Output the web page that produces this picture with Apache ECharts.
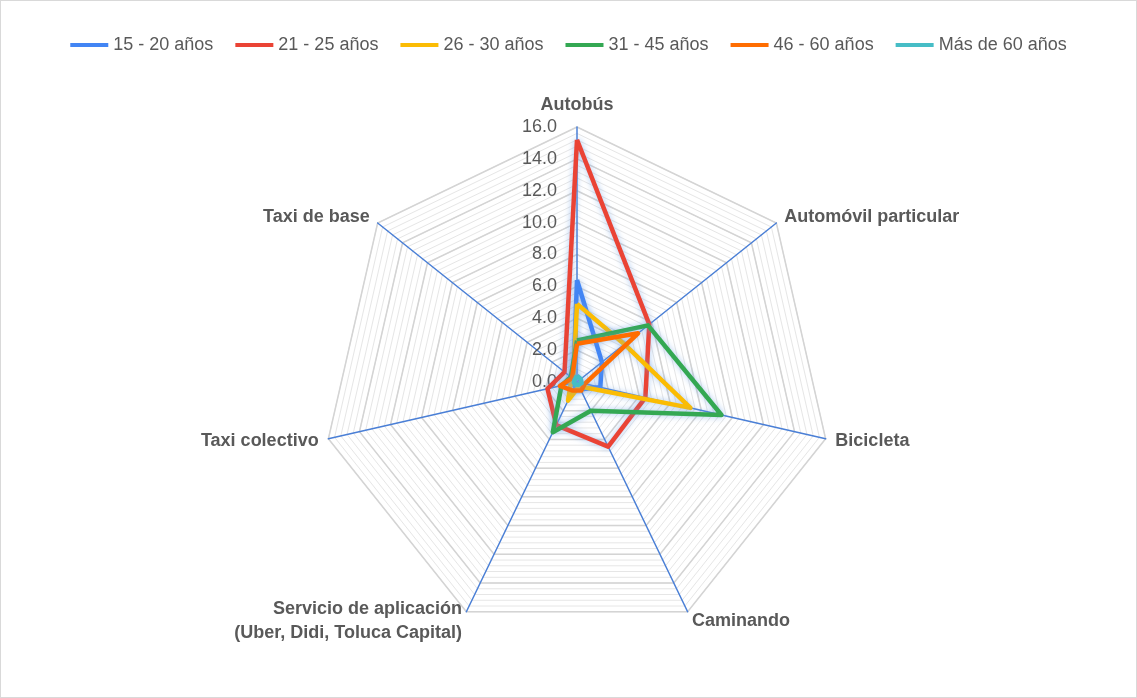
<!DOCTYPE html>
<html>
<head>
<meta charset="utf-8">
<script src="https://cdn.jsdelivr.net/npm/echarts@6/dist/echarts.min.js"></script>
<style>
  html, body { margin: 0; padding: 0; background: #ffffff; }
  #chart { width: 1137px; height: 698px; box-sizing: border-box; border: 1px solid #d9d9d9; }
</style>
</head>
<body>
<div id="chart"></div>
<script>
// Modos de transporte (en sentido horario desde arriba)
const categories = [
  'Autobús',
  'Automóvil particular',
  'Bicicleta',
  'Caminando',
  'Servicio de aplicación\n(Uber, Didi, Toluca Capital)',
  'Taxi colectivo',
  'Taxi de base'
];

// Grupos de edad
const ageGroups = ['15 - 20 años', '21 - 25 años', '26 - 30 años', '31 - 45 años', '46 - 60 años', 'Más de 60 años'];

// Porcentajes por modo de transporte, un arreglo por grupo de edad
const age15to20 = [6.4, 2.0, 1.5, 0.5, 0.3, 0.3, 0.3];
const age21to25 = [15.2, 5.8, 4.4, 4.5, 3.0, 1.9, 1.0];
const age26to30 = [4.9, 3.8, 7.3, 0.3, 1.3, 0.4, 0.3];
const age31to45 = [2.6, 5.7, 9.3, 2.0, 3.5, 1.0, 0.5];
const age46to60 = [2.4, 4.9, 0.5, 0.6, 0.6, 1.1, 0.4];
const ageOver60 = [0.4, 0.3, 0.3, 0.2, 0.2, 0.2, 0.2];

// Escala radial
const axisMin = 0;
const axisMax = 16;
const majorStep = 2;
const minorStep = 0.4;

const groupValues = [age15to20, age21to25, age26to30, age31to45, age46to60, ageOver60];
const groupColors = ['#4285F4', '#EA4335', '#FBBC04', '#34A853', '#FF6D01', '#46BDC6'];

// ECharts coloca los indicadores en sentido antihorario; se reordenan para recorrerlos en sentido horario
const order = [0].concat(categories.slice(1).map((_, i) => categories.length - 1 - i));

const fontFamily = "'Liberation Sans', Arial, sans-serif";
const center = [576, 381];
const radius = 255;

const majorIndicators = order.map((idx, k) => {
  const ind = { name: categories[idx], min: axisMin, max: axisMax };
  if (k === 0) {
    ind.axisLabel = {
      show: true,
      color: '#595959',
      fontSize: 18,
      fontFamily: fontFamily,
      margin: 20,
      formatter: v => Number(v).toFixed(1)
    };
  }
  return ind;
});
const minorIndicators = order.map(() => ({ name: '', min: axisMin, max: axisMax }));

const chart = echarts.init(document.getElementById('chart'), null, { renderer: 'canvas' });

chart.setOption({
  backgroundColor: '#ffffff',
  animation: false,
  legend: {
    data: ageGroups,
    top: 30,
    left: 'center',
    icon: 'rect',
    itemWidth: 38,
    itemHeight: 4,
    itemGap: 22,
    textStyle: { color: '#595959', fontSize: 18, fontFamily: fontFamily }
  },
  radar: [
    {
      // divisiones menores
      center: center,
      radius: radius,
      startAngle: 90,
      shape: 'polygon',
      splitNumber: Math.round((axisMax - axisMin) / minorStep),
      indicator: minorIndicators,
      axisName: { show: false },
      axisLine: { show: false },
      axisTick: { show: false },
      axisLabel: { show: false },
      splitArea: { show: false },
      splitLine: { lineStyle: { color: '#e6e6e6', width: 1 } }
    },
    {
      // divisiones principales, ejes y nombres
      center: center,
      radius: radius,
      startAngle: 90,
      shape: 'polygon',
      splitNumber: Math.round((axisMax - axisMin) / majorStep),
      indicator: majorIndicators,
      nameGap: 10,
      axisName: {
        color: '#595959',
        fontSize: 18,
        fontWeight: 'bold',
        fontFamily: fontFamily,
        lineHeight: 24
      },
      axisLine: { show: true, lineStyle: { color: '#4a7fd6', width: 1.5 } },
      axisTick: { show: false },
      axisLabel: { show: false },
      splitArea: { show: false },
      splitLine: { lineStyle: { color: '#d4d4d4', width: 1.5 } }
    }
  ],
  series: ageGroups.map((name, g) => ({
    type: 'radar',
    name: name,
    radarIndex: 1,
    symbol: 'none',
    z: 2 + g,
    itemStyle: { color: groupColors[g] },
    lineStyle: {
      color: groupColors[g],
      width: 4.5,
      shadowColor: 'rgba(110,160,230,0.6)',
      shadowBlur: 6
    },
    data: [{ name: name, value: order.map(idx => groupValues[g][idx]) }]
  }))
});
</script>
</body>
</html>
